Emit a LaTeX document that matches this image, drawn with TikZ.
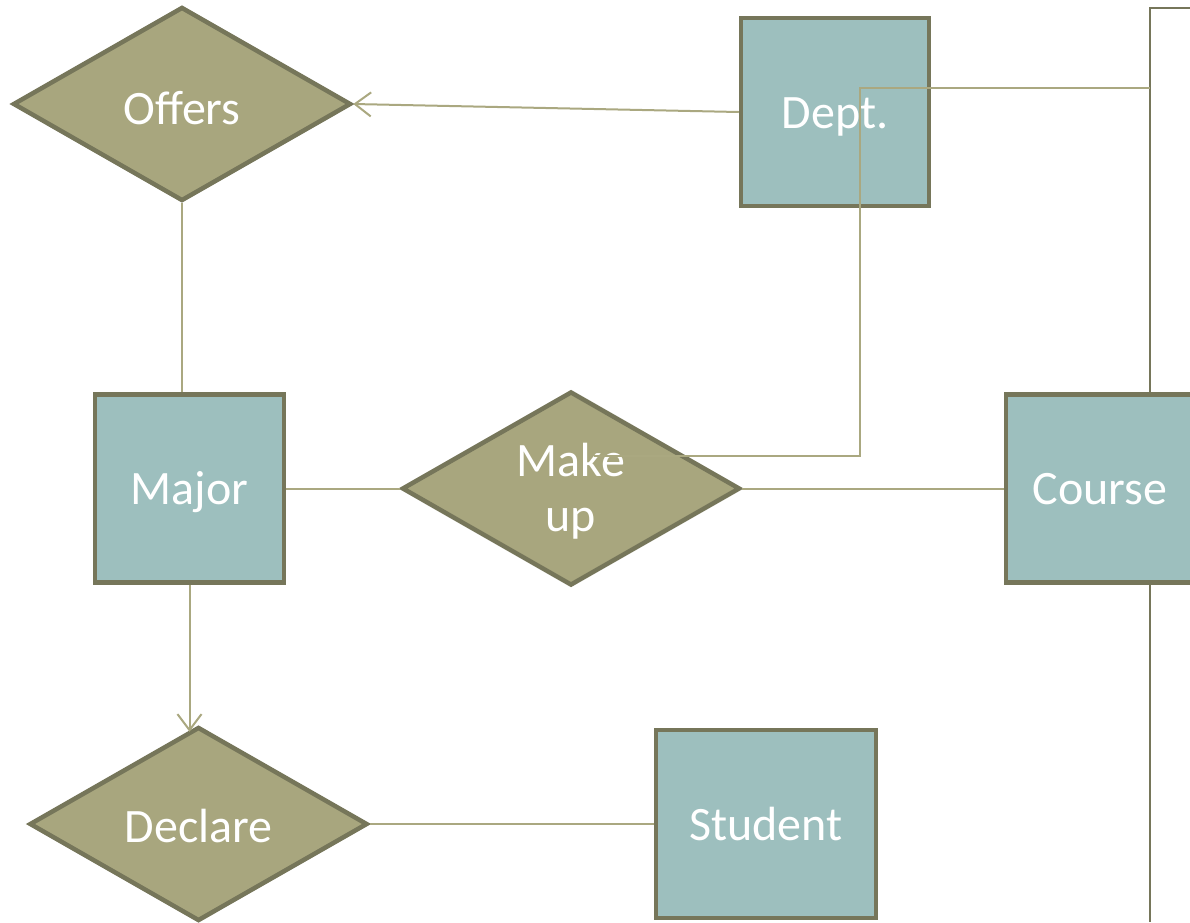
\documentclass[tikz,border=0pt]{standalone}
\usepackage{fontspec}
\setmainfont{Carlito}
\usetikzlibrary{shapes.geometric,arrows.meta}
\definecolor{boxfill}{HTML}{9DBFBE}
\definecolor{edge}{HTML}{76765A}
\definecolor{relfill}{HTML}{A8A67E}
\definecolor{conncol}{HTML}{AAA880}
\tikzset{
  bigtext/.style={text=white, font=\fontsize{48}{60}\selectfont},
  ent/.style={draw=edge, fill=boxfill, line width=4.5pt, minimum width=188pt, minimum height=188pt,
    inner sep=0pt, bigtext, text height=38pt, text depth=6pt},
  rel/.style={diamond, draw=edge, fill=relfill, line width=4.5pt, minimum width=338pt, minimum height=194pt,
    inner sep=0pt},
  lbl/.style={bigtext, inner sep=0pt, anchor=base},
  conn/.style={draw=conncol, line width=2pt},
  frame/.style={draw=edge, line width=2.5pt},
  barb/.style={-{Straight Barb[length=16pt,width=24pt,line width=2pt]}}
}
\begin{document}
\begin{tikzpicture}[x=1pt,y=-1pt]
\useasboundingbox[fill=white] (0,0) rectangle (1190,922);
% right frame
\coordinate (ftop) at (1150,8);
\coordinate (fend) at (1190,8);
\coordinate (fbot) at (1150,922);
\draw[frame] (fend) -- (ftop) -- (fbot);
% entities
\node[ent] (dept) at (835,112) {Dept.};
\node[ent, minimum width=189pt] (major) at (189.5,488.5) {Major};
\node[ent] (course) at (1100,488.5) {Course};
\node[ent, minimum width=220pt] (student) at (766,824) {Student};
% relationships
\node[rel] (offers) at (182,104) {};
\path (offers.center) ++(0,20) node[lbl] (offerstext) {Offers};
\node[rel] (makeup) at (571,488.5) {};
\path (makeup.center) ++(0,-12.5) node[lbl] (maketext) {Make};
\path (makeup.center) ++(0,42.5) node[lbl] (uptext) {up};
\node[rel] (declare) at (198.5,824) {};
\path (declare.center) ++(0,18) node[lbl] (declaretext) {Declare};
% connectors
\draw[conn, barb] (dept.west) -- (offers.east);
\draw[conn] (offers.south) -- (offers.south |- major.north);
\draw[conn] (major.east) -- (makeup.west);
\draw[conn] (makeup.east) -- (course.west);
\draw[conn, barb, shorten >=-7pt] (major.south) -- (major.south |- declare.north);
\draw[conn] (declare.east) -- (student.west);
\coordinate (rj) at (1150,88);
\coordinate (mk) at (594,456);
\draw[conn] (rj) -- ++(-290,0) |- (mk);
\end{tikzpicture}
\end{document}
